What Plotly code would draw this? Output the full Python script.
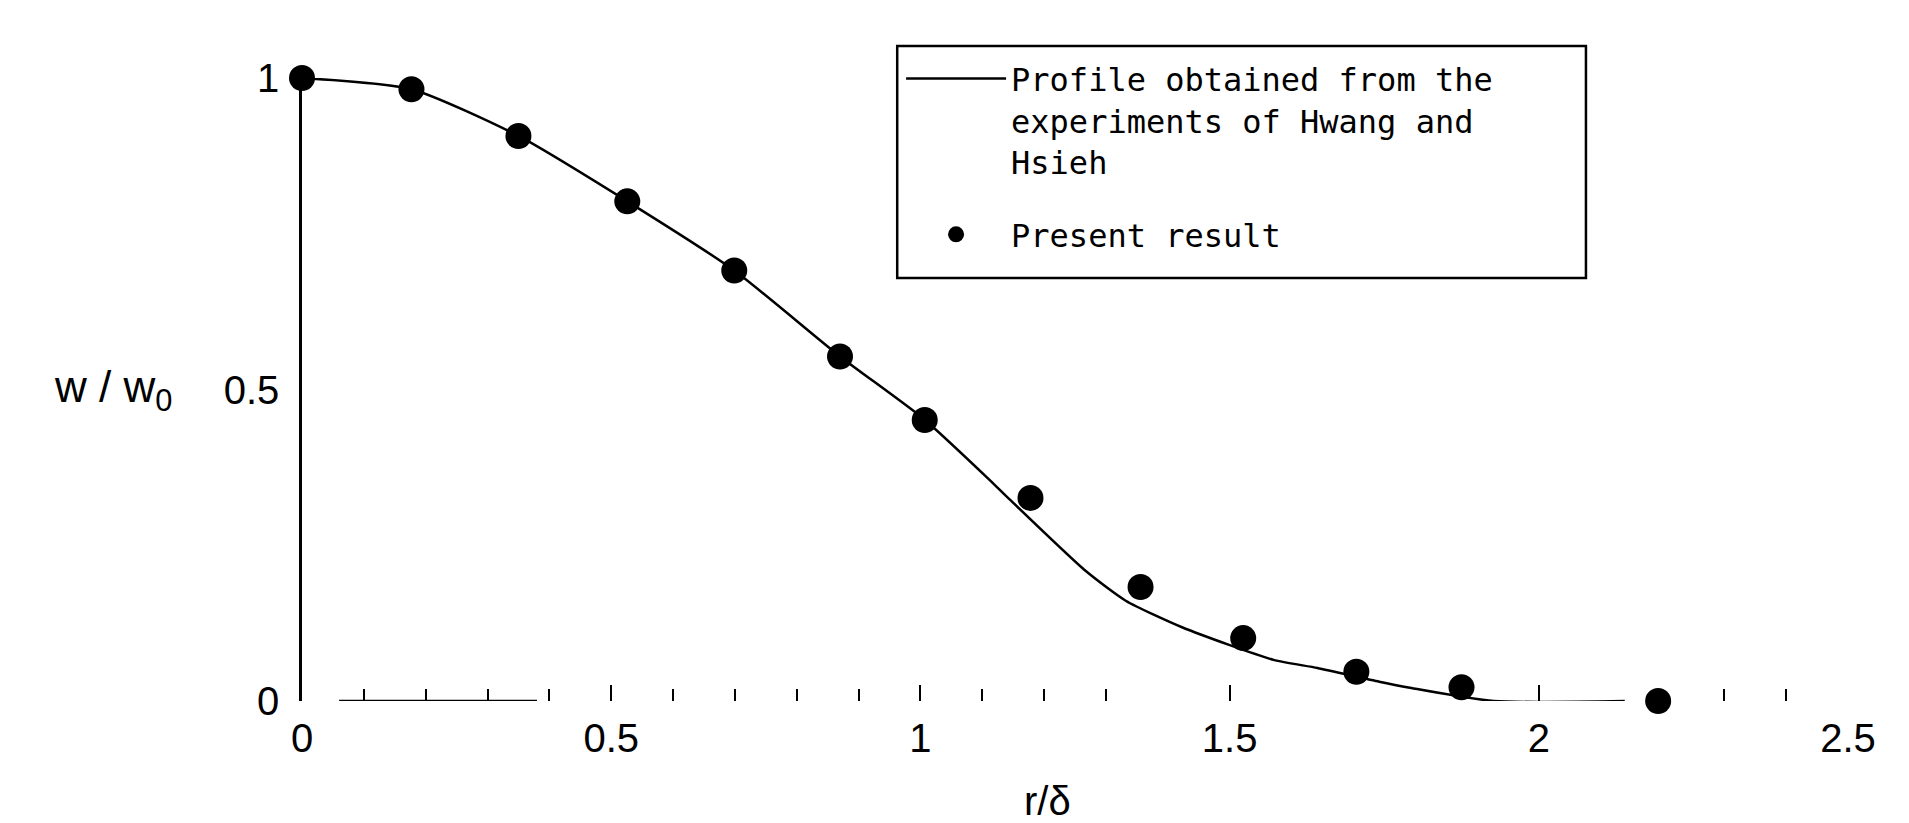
import plotly.graph_objects as go

# ---- data ----
profile_x = [0, 0.177, 0.35, 0.526, 0.699, 0.87, 1.005, 1.118, 1.146, 1.267, 1.332, 1.424,
             1.571, 1.642, 1.742, 1.794, 1.927, 2.139]
profile_y = [1.0, 0.982, 0.907, 0.802, 0.691, 0.553, 0.453, 0.349, 0.322, 0.209, 0.161, 0.118,
             0.066, 0.053, 0.031, 0.021, 0.0, 0.0]

present_x = [0, 0.177, 0.350, 0.526, 0.699, 0.870, 1.007, 1.178, 1.356, 1.522, 1.705, 1.875, 2.193]
present_y = [1.0, 0.982, 0.907, 0.802, 0.691, 0.553, 0.451, 0.326, 0.183, 0.101, 0.047, 0.022, 0.0]

x_tickvals = [0, 0.5, 1, 1.5, 2, 2.5]
x_ticktext = ["0", "0.5", "1", "1.5", "2", "2.5"]
x_minor_ticks = [0.1, 0.2, 0.3, 0.4, 0.6, 0.7, 0.8, 0.9, 1.1, 1.2, 1.3, 2.3, 2.4]
y_tickvals = [0, 0.5, 1]
y_ticktext = ["0", "0.5", "1"]

legend_line = "Profile obtained from the<br>experiments of Hwang and<br>Hsieh"
legend_dots = "Present result"
x_title = "r/δ"
y_title = "w / w<sub>0</sub>"

fig = go.Figure()
fig.add_trace(go.Scatter(
    x=profile_x, y=profile_y, mode="lines", name=legend_line,
    line=dict(color="black", width=2.5, shape="spline", smoothing=0.6),
    legendgroup="a",
))
fig.add_trace(go.Scatter(
    x=present_x, y=present_y, mode="markers", name=legend_dots,
    marker=dict(color="black", size=26, symbol="circle"),
    cliponaxis=False, legendgroup="b",
))

tick_font = dict(family="Liberation Sans", size=40, color="black")

fig.update_layout(
    width=1909, height=823,
    margin=dict(l=294, r=69, t=70, b=130),
    paper_bgcolor="white", plot_bgcolor="white",
    showlegend=True,
    legend=dict(
        x=0.3875, y=1.043, xanchor="left", yanchor="top",
        bgcolor="rgba(0,0,0,0)", borderwidth=0,
        font=dict(family="DejaVu Sans Mono", size=32, color="black"),
        itemwidth=100, tracegroupgap=28, traceorder="grouped",
        itemsizing="trace", valign="top",
    ),
    xaxis=dict(
        range=[0, 2.5], showgrid=False, zeroline=False, showline=False,
        tickmode="array", tickvals=x_tickvals, ticktext=x_ticktext,
        ticks="inside", ticklen=16, tickwidth=2, tickcolor="black",
        tickfont=tick_font, ticklabelstandoff=10,
        minor=dict(tickvals=x_minor_ticks, ticks="inside", ticklen=12,
                   tickwidth=2, tickcolor="black", showgrid=False),
        fixedrange=True,
    ),
    yaxis=dict(
        range=[0, 1], showgrid=False, zeroline=False,
        showline=True, linecolor="black", linewidth=2.5,
        tickmode="array", tickvals=y_tickvals, ticktext=y_ticktext,
        ticks="", tickfont=tick_font, ticklabelstandoff=12,
        fixedrange=True,
    ),
    shapes=[
        # legend frame
        dict(type="rect", xref="paper", yref="paper",
             x0=0.385, x1=0.8305, y0=0.679, y1=1.0514,
             line=dict(color="black", width=2.5), fillcolor="rgba(0,0,0,0)"),
        # visible fragment of the x axis line
        dict(type="line", xref="x", yref="y", x0=0.06, x1=0.38, y0=0, y1=0,
             line=dict(color="black", width=2.5)),
    ],
    annotations=[
        dict(text=y_title, xref="paper", yref="y", x=0, y=0.5,
             xanchor="center", yanchor="middle", xshift=-189, showarrow=False,
             font=dict(family="Liberation Sans", size=44, color="black")),
        dict(text=x_title, xref="paper", yref="paper", x=0.4825, y=0,
             xanchor="center", yanchor="bottom", yshift=-124, showarrow=False,
             font=dict(family="Liberation Sans", size=40, color="black")),
    ],
)

fig.write_html("out.html")
